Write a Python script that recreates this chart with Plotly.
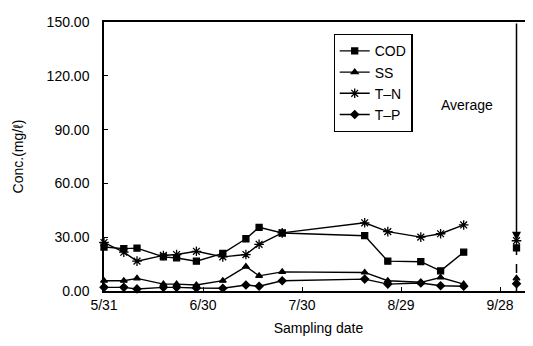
import plotly.graph_objects as go

dates = ["2001-05-31", "2001-06-06", "2001-06-10", "2001-06-18", "2001-06-22",
         "2001-06-28", "2001-07-06", "2001-07-13", "2001-07-17", "2001-07-24",
         "2001-08-18", "2001-08-25", "2001-09-04", "2001-09-10", "2001-09-17"]
cod = [24.5, 23.6, 23.9, 19.0, 18.4, 16.6, 20.9, 29.1, 35.5, 32.3, 30.8, 16.6, 16.3, 11.2, 21.6]
ss = [5.7, 5.7, 7.0, 3.8, 3.8, 3.3, 5.7, 13.6, 8.4, 10.6, 10.3, 5.7, 4.8, 7.5, 3.8]
tn = [27.0, 21.6, 16.6, 19.8, 20.3, 22.1, 19.0, 20.3, 26.0, 32.4, 38.0, 33.1, 30.0, 31.9, 36.8]
tp = [2.0, 2.0, 1.1, 2.0, 2.0, 1.6, 1.5, 3.3, 2.6, 5.7, 6.6, 3.8, 4.4, 2.9, 2.6]

avg_date = "2001-10-03"
avg_cod, avg_ss, avg_tn, avg_tp = 24.0, 7.0, 28.0, 4.0

tick_dates = ["2001-05-31", "2001-06-30", "2001-07-30", "2001-08-29", "2001-09-28"]
tick_labels = ["5/31", "6/30", "7/30", "8/29", "9/28"]
y_ticks = [0, 30, 60, 90, 120, 150]

FONT = "Liberation Sans, Arial, sans-serif"

fig = go.Figure()
series = [("COD", cod, "square", 6, avg_cod),
          ("SS", ss, "triangle-up", 6, avg_ss),
          ("T\u2013N", tn, "asterisk-open", 8, avg_tn),
          ("T\u2013P", tp, "diamond", 6, avg_tp)]
for name, vals, sym, sz, avg in series:
    fig.add_trace(go.Scatter(
        x=dates, y=vals, name=name, mode="lines+markers",
        line=dict(color="black", width=1.4),
        marker=dict(symbol=sym, size=sz, color="black",
                    line=dict(color="black", width=1.3)),
        cliponaxis=False))
    fig.add_trace(go.Scatter(
        x=[avg_date], y=[avg], mode="markers", showlegend=False,
        marker=dict(symbol=sym, size=sz, color="black",
                    line=dict(color="black", width=1.3)),
        cliponaxis=False))

# dashed line below the average arrow
fig.add_shape(type="line", xref="x", yref="y", x0=avg_date, x1=avg_date,
              y0=0, y1=avg_tn, line=dict(color="black", width=1.5, dash="dash"))
# arrow from top down to the averages
fig.add_annotation(x=avg_date, y=avg_tn, ax=avg_date, ay=150, xref="x", yref="y",
                   axref="x", ayref="y", showarrow=True, arrowhead=2,
                   arrowsize=1.2, arrowwidth=1.5, arrowcolor="black", text="")
fig.add_annotation(x=0.912, y=0.69, xref="paper", yref="paper", text="Average",
                   showarrow=False, xanchor="right", yanchor="middle",
                   font=dict(family=FONT, size=14, color="black"))

fig.update_layout(
    width=533, height=346,
    margin=dict(l=96, r=6, t=10, b=63),
    paper_bgcolor="white", plot_bgcolor="white",
    font=dict(family=FONT, size=13, color="black"),
    showlegend=True,
    legend=dict(x=0.535, y=0.955, xanchor="left", yanchor="top",
                bordercolor="black", borderwidth=1.2, bgcolor="white",
                font=dict(family=FONT, size=14, color="black"),
                itemwidth=30, tracegroupgap=0),
)
fig.update_xaxes(
    type="date", range=["2001-05-31", "2001-10-08"],
    tickvals=tick_dates, ticktext=tick_labels,
    ticks="inside", ticklen=4, tickcolor="black",
    showgrid=False, zeroline=False,
    showline=True, linecolor="black", linewidth=1.5, mirror=True,
    title=dict(text="Sampling date", font=dict(family=FONT, size=14), standoff=12),
    tickfont=dict(family=FONT, size=14),
)
fig.update_yaxes(
    range=[-0.05, 150.05], tickvals=y_ticks, tickformat=".2f",
    ticks="inside", ticklen=4, tickcolor="black",
    showgrid=False, zeroline=False,
    showline=True, linecolor="black", linewidth=1.5, mirror=True,
    ticklabelstandoff=10, ticklabeloverflow="allow",
    title=dict(text="Conc.(mg/\u2113)", font=dict(family=FONT, size=14), standoff=20),
    tickfont=dict(family=FONT, size=14),
)

fig.write_html("out.html")
